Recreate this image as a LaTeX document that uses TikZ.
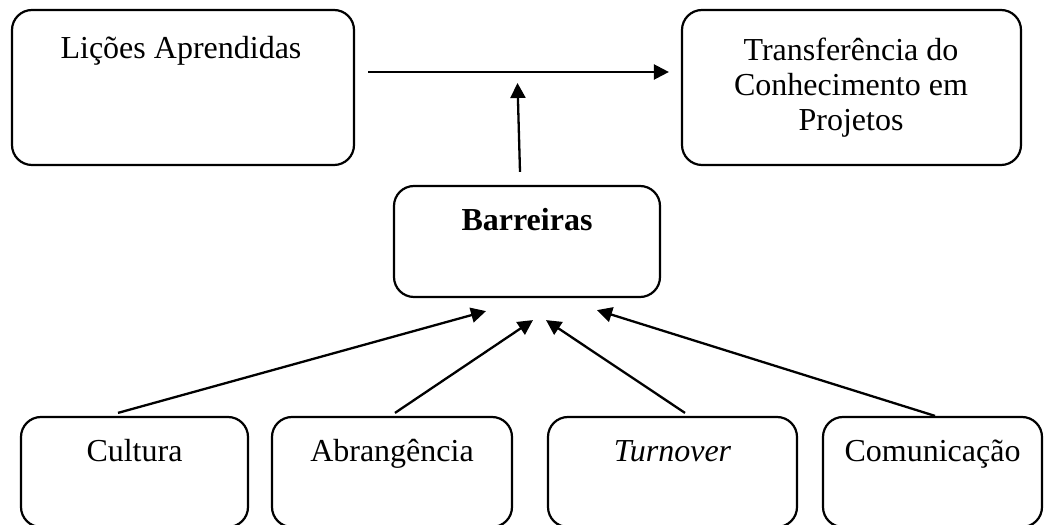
\documentclass[tikz,border=0pt]{standalone}
\usepackage{fontspec}
\setmainfont{Liberation Serif}
\usetikzlibrary{arrows.meta,calc}
\begin{document}
\begin{tikzpicture}[x=1pt,y=1pt,
  box/.style={draw=black,line width=2.2pt,rounded corners=20pt,inner sep=0pt},
  lbl/.style={anchor=base,inner sep=0pt,font=\fontsize{32}{35}\selectfont,align=center},
  arr/.style={line width=2.3pt,-{Triangle[length=15pt,width=15pt]}}]
\useasboundingbox (0,0) rectangle (1053,525);
% boxes
\node[box,minimum width=342pt,minimum height=155pt] (lic) at (183,437.5) {};
\node[box,minimum width=339pt,minimum height=155pt] (tra) at (851.5,437.5) {};
\node[box,minimum width=266pt,minimum height=111pt] (bar) at (527,283.5) {};
\node[box,minimum width=227pt,minimum height=110pt] (cul) at (134.5,53) {};
\node[box,minimum width=240pt,minimum height=110pt] (abr) at (392,53) {};
\node[box,minimum width=249pt,minimum height=110pt] (tur) at (672.5,53) {};
\node[box,minimum width=219pt,minimum height=110pt] (com) at (932.5,53) {};
% texts
\node[lbl] (licT) at (181,466) {Lições Aprendidas};
\node[lbl] (traT) at (851,394) {Transferência do\\Conhecimento em\\Projetos};
\node[lbl] (barT) at (527,294) {\bfseries Barreiras};
\node[lbl] (culT) at (134.5,63) {Cultura};
\node[lbl] (abrT) at (392,63) {Abrangência};
\node[lbl] (turT) at (672.5,63) {\itshape Turnover};
\node[lbl] (comT) at (932.5,63) {Comunicação};
% arrows
\coordinate (hb) at (517.5,442);
\draw[arr] ($(lic.east)+(13,15.5)$) -- ($(tra.west)+(-12,15.5)$);
\draw[arr] ($(bar.north)+(-7,13)$) -- (hb);
\draw[arr] ($(cul.north)+(-16.5,3)$) -- ($(bar.south)+(-41,-13)$);
\draw[arr] ($(abr.north)+(3,3)$) -- ($(bar.south)+(6,-22)$);
\draw[arr] ($(tur.north)+(12.5,3)$) -- ($(bar.south)+(19,-22)$);
\draw[arr] ($(com.north)+(2.5,0)$) -- ($(bar.south)+(70,-12)$);
\end{tikzpicture}
\end{document}
